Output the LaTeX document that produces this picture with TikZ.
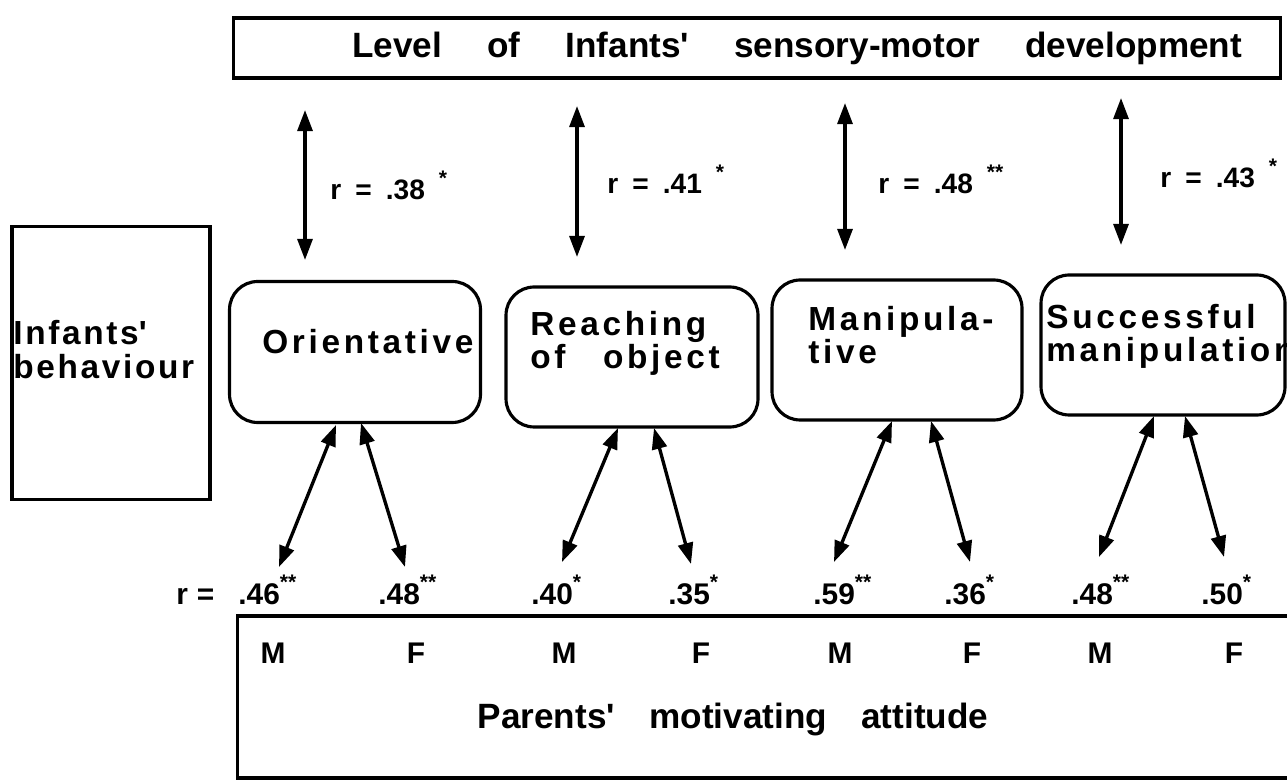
\documentclass[tikz,border=0pt]{standalone}
\usepackage{fontspec}
\setmainfont{Liberation Sans}
\usetikzlibrary{arrows.meta}
\tikzset{
  frame/.style={draw, line width=1.8pt, inner sep=0pt},
  rbox/.style={frame, rounded corners=16pt},
  dbl/.style={line width=1.9pt, {Triangle[length=12pt,width=8.5pt]}-{Triangle[length=12pt,width=8.5pt]}},
  title/.style={font=\fontsize{20}{22}\selectfont\bfseries, inner sep=0pt},
  btxt/.style={font=\fontsize{19}{19}\selectfont\bfseries\addfontfeatures{LetterSpace=11}, inner sep=0pt, anchor=base west},
  ltxt/.style={font=\fontsize{19}{19}\selectfont\bfseries\addfontfeatures{LetterSpace=8}, inner sep=0pt, anchor=base west},
  rlab/.style={font=\fontsize{16}{16}\selectfont\bfseries, inner sep=0pt, anchor=base west},
  num/.style={font=\fontsize{17}{17}\selectfont\bfseries, inner sep=0pt, anchor=base west},
  mf/.style={font=\fontsize{17}{17}\selectfont\bfseries, inner sep=0pt},
}
\newcommand\stt[1]{\raisebox{8pt}{\fontsize{12}{12}\selectfont #1}}
\newcommand\ap{\textquotesingle}
\begin{document}
\begin{tikzpicture}[x=0.02cm,y=-0.02cm]
\useasboundingbox (0,0) rectangle (1287,783);
\clip (0,0) rectangle (1287,783);
% boxes
\node[frame, minimum width=20.96cm, minimum height=1.2cm] (top) at (757,48) {};
\node[title, anchor=base west] (toptxt) at (352,58) {\makebox[17.8cm][s]{Level of Infants\ap{} sensory-motor development}};
\node[frame, minimum width=3.96cm, minimum height=5.46cm] (left) at (111,363) {};
\node[ltxt] (inf1) at (13,345) {Infants\ap};
\node[ltxt] (inf2) at (13,378) {behaviour};
\node[rbox, minimum width=5.02cm, minimum height=2.82cm] (b1) at (355,352) {};
\node[rbox, minimum width=5.04cm, minimum height=2.8cm] (b2) at (632,357) {};
\node[rbox, minimum width=5.0cm, minimum height=2.8cm] (b3) at (897,350) {};
\node[rbox, minimum width=4.88cm, minimum height=2.8cm] (b4) at (1163,345) {};
\node[btxt] (t1) at (262,354) {Orientative};
\node[btxt] (t2a) at (530,336) {Reaching};
\node[btxt] (t2b) at (530,369) {of\hspace{14pt} object};
\node[btxt] (t3a) at (808,331) {Manipula-};
\node[btxt] (t3b) at (808,364) {tive};
\node[btxt] (t4a) at (1046,329) {Successful};
\node[btxt] (t4b) at (1046,362) {manipulation};
\node[frame, minimum width=21.5cm, minimum height=3.24cm] (pbox) at (775,697) {};
% M/F
\foreach \x/\l [count=\i] in {273/M,416/F,564/M,701/F,840/M,972/F,1100/M,1234/F}
  \node[mf] (mf\i) at (\x,653) {\l};
\node[title] (par) at (733,719) {Parents\ap\hspace{14pt} motivating\hspace{14pt} attitude};
% vertical arrows
\coordinate (v1a) at (305,110); \coordinate (v1b) at (305,260);
\coordinate (v2a) at (577,106); \coordinate (v2b) at (577,257);
\coordinate (v3a) at (845,103); \coordinate (v3b) at (845,250);
\coordinate (v4a) at (1121,98); \coordinate (v4b) at (1121,245);
\foreach \i in {1,...,4} \draw[dbl] (v\i a) -- (v\i b);
\node[rlab] (r1) at (330,200) {r\hspace{8pt}=\hspace{8pt}.38\hspace{8pt}\stt{*}};
\node[rlab] (r2) at (607,194) {r\hspace{8pt}=\hspace{8pt}.41\hspace{8pt}\stt{*}};
\node[rlab] (r3) at (878,194) {r\hspace{8pt}=\hspace{8pt}.48\hspace{8pt}\stt{**}};
\node[rlab] (r4) at (1160,188) {r\hspace{8pt}=\hspace{8pt}.43\hspace{8pt}\stt{*}};
% lower arrows
\coordinate (m1a) at (336,425); \coordinate (m1b) at (279,567);
\coordinate (f1a) at (361,423); \coordinate (f1b) at (405,567);
\coordinate (m2a) at (618,428); \coordinate (m2b) at (562,562);
\coordinate (f2a) at (654,428); \coordinate (f2b) at (691,564);
\coordinate (m3a) at (892,421); \coordinate (m3b) at (834,562);
\coordinate (f3a) at (931,421); \coordinate (f3b) at (970,562);
\coordinate (m4a) at (1154,416); \coordinate (m4b) at (1099,557);
\coordinate (f4a) at (1185,416); \coordinate (f4b) at (1224,557);
\foreach \i in {1,...,4} {\draw[dbl] (m\i a) -- (m\i b); \draw[dbl] (f\i a) -- (f\i b);}
% numbers
\node[num] (rr) at (176,604) {r\hspace{5pt}=};
\node[num] (n1) at (238,604) {.46\stt{**}};
\node[num] (n2) at (378,604) {.48\stt{**}};
\node[num] (n3) at (531,604) {.40\stt{*}};
\node[num] (n4) at (668,604) {.35\stt{*}};
\node[num] (n5) at (813,604) {.59\stt{**}};
\node[num] (n6) at (944,604) {.36\stt{*}};
\node[num] (n7) at (1071,604) {.48\stt{**}};
\node[num] (n8) at (1201,604) {.50\stt{*}};
\end{tikzpicture}
\end{document}
